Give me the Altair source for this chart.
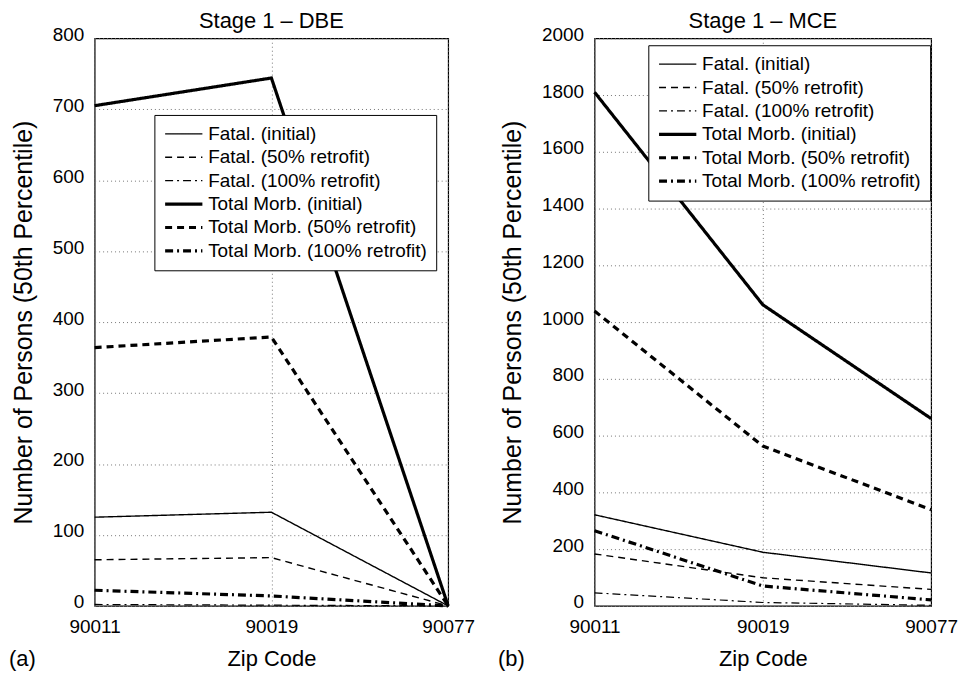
import altair as alt
import pandas as pd

zips = ["90011", "90019", "90077"]
series = [
    "Fatal. (initial)",
    "Fatal. (50% retrofit)",
    "Fatal. (100% retrofit)",
    "Total Morb. (initial)",
    "Total Morb. (50% retrofit)",
    "Total Morb. (100% retrofit)",
]

# Stage 1 - DBE
dbe_fatal_initial = [125, 132, 0]
dbe_fatal_50 = [65, 68, 0]
dbe_fatal_100 = [2, 1, 0]
dbe_morb_initial = [705, 744, 0]
dbe_morb_50 = [364, 379, 0]
dbe_morb_100 = [22, 14, 0]

# Stage 1 - MCE
mce_fatal_initial = [321, 189, 116]
mce_fatal_50 = [183, 99, 58]
mce_fatal_100 = [46, 12, 2]
mce_morb_initial = [1810, 1061, 660]
mce_morb_50 = [1039, 563, 339]
mce_morb_100 = [265, 70, 21]

dashes = [[1, 0], [7, 5], [8, 4, 2, 4], [1, 0], [7, 5], [8, 4, 2, 4]]
widths = [1.4, 1.4, 1.2, 3.2, 3.2, 3.2]

FONT = "Liberation Sans"


def long_df(lists):
    rows = []
    for name, vals in zip(series, lists):
        for z, v in zip(zips, vals):
            rows.append({"zip": z, "series": name, "value": v})
    return pd.DataFrame(rows)


def panel(df, title, ymax, ystep, w, h, lx, ly, tag, tagx):
    leg = alt.Legend(
        title=None,
        orient="none",
        legendX=lx,
        legendY=ly,
        strokeColor="black",
        fillColor="white",
        padding=9,
        symbolType="stroke",
        symbolSize=1400,
        symbolStrokeColor="black",
        labelFont=FONT,
        labelFontSize=19,
        labelColor="black",
        labelOffset=4,
        labelLimit=500,
        clipHeight=20,
        rowPadding=3.5,
        cornerRadius=0,
    )
    base = alt.Chart(df)
    lines = base.mark_line(color="black", strokeCap="butt", clip=False).encode(
        x=alt.X(
            "zip:N",
            sort=zips,
            scale=alt.Scale(type="point", padding=0, domain=zips),
            axis=alt.Axis(
                title="Zip Code",
                labelAngle=0,
                grid=True,
                gridDash=[1, 3],
                gridColor="#777",
                ticks=False,
                domain=False,
                labelFont=FONT,
                labelFontSize=19,
                labelColor="black",
                labelPadding=12,
                titleFont=FONT,
                titleFontSize=22,
                titleFontWeight="normal",
                titleColor="black",
                titlePadding=12,
            ),
        ),
        y=alt.Y(
            "value:Q",
            scale=alt.Scale(domain=[0, ymax], nice=False, zero=True),
            axis=alt.Axis(
                title="Number of Persons (50th Percentile)",
                values=list(range(0, ymax + 1, ystep)),
                format="d",
                grid=True,
                gridDash=[1, 3],
                gridColor="#777",
                ticks=False,
                domain=False,
                labelFont=FONT,
                labelFontSize=19,
                labelColor="black",
                labelPadding=11,
                labelOffset=-4,
                titleFont=FONT,
                titleFontSize=25,
                titleFontWeight="normal",
                titleColor="black",
                titlePadding=16,
            ),
        ),
        strokeDash=alt.StrokeDash(
            "series:N", scale=alt.Scale(domain=series, range=dashes), legend=leg
        ),
        strokeWidth=alt.StrokeWidth(
            "series:O",
            scale=alt.Scale(type="ordinal", domain=series, range=widths),
            legend=leg,
        ),
        detail="series:N",
    )
    label = (
        alt.Chart(pd.DataFrame({"t": [tag]}))
        .mark_text(font=FONT, fontSize=22, align="left", baseline="alphabetic", color="black")
        .encode(text="t:N", x=alt.value(tagx), y=alt.value(h + 60))
    )
    return (lines + label).properties(
        width=w,
        height=h,
        title=alt.TitleParams(
            title, font=FONT, fontSize=22, fontWeight="normal", color="black", offset=-8
        ),
    )


left = panel(
    long_df([dbe_fatal_initial, dbe_fatal_50, dbe_fatal_100, dbe_morb_initial, dbe_morb_50, dbe_morb_100]),
    "Stage 1 \u2013 DBE", 800, 100, 355, 570, 60, 77, "(a)", -86,
)
right = panel(
    long_df([mce_fatal_initial, mce_fatal_50, mce_fatal_100, mce_morb_initial, mce_morb_50, mce_morb_100]),
    "Stage 1 \u2013 MCE", 2000, 200, 338, 570, 54, 7, "(b)", -97,
)

chart = (
    alt.hconcat(left, right, spacing=21)
    .resolve_scale(y="independent", strokeDash="independent", strokeWidth="independent")
    .resolve_legend(strokeDash="independent", strokeWidth="independent")
    .configure(padding=0, font=FONT)
    .configure_view(stroke="black", strokeWidth=1.2)
    .configure_title(anchor="middle")
)

chart.save("out.html", embed_options={"renderer": "svg", "actions": False})
